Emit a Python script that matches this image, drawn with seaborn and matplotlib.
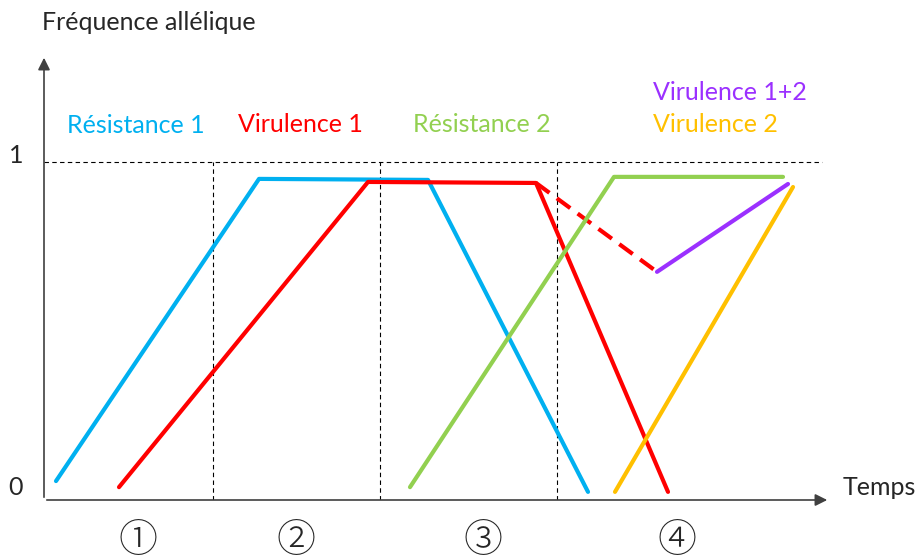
import numpy as np
import pandas as pd
import seaborn as sns
import matplotlib.pyplot as plt

sns.set_style("white")
plt.rcParams['font.family'] = ['Lato', 'DejaVu Sans']

res1_t = [0.12, 2.15, 3.84, 5.44]
res1_f = [0.056, 0.95, 0.947, 0.024]

vir1_t = [0.75, 3.24, 4.92, 6.24]
vir1_f = [0.038, 0.941, 0.938, 0.024]

vir1_pointille_t = [4.92, 6.13]
vir1_pointille_f = [0.938, 0.675]

vir12_t = [6.13, 7.44]
vir12_f = [0.675, 0.935]

res2_t = [3.66, 5.70, 7.39]
res2_f = [0.038, 0.956, 0.956]

vir2_t = [5.71, 7.49]
vir2_f = [0.024, 0.926]

separations = [1.69, 3.36, 5.13]
phases = ["①", "②", "③", "④"]
phases_t = [0.94, 2.52, 4.39, 6.33]

bleu = "#00B0F0"
rouge = "#FF0000"
vert = "#92D050"
violet = "#9B30FF"
orange = "#FFC000"

fig = plt.figure(figsize=(9.16, 5.59), dpi=100)
ax = fig.add_axes([44/916, 59/559, (830-44)/916, (500-55)/559])
ax.set_xlim(0, 7.86)
ax.set_ylim(0, (500-55)/338)

# lignes pointillées de repère
ax.plot([0, 7.78], [1, 1], color="black", lw=0.8, linestyle=(0, (4, 3)))
for s in separations:
    ax.plot([s, s], [0, 1], color="black", lw=0.8, linestyle=(0, (4, 3)))

sns.lineplot(x=res1_t, y=res1_f, sort=False, color=bleu, lw=3, ax=ax)
sns.lineplot(x=vir1_t, y=vir1_f, sort=False, color=rouge, lw=3, ax=ax)
sns.lineplot(x=vir1_pointille_t, y=vir1_pointille_f, sort=False, color=rouge, lw=3,
             linestyle=(0, (4, 2.2)), ax=ax)
sns.lineplot(x=vir12_t, y=vir12_f, sort=False, color=violet, lw=3, ax=ax)
sns.lineplot(x=res2_t, y=res2_f, sort=False, color=vert, lw=3, ax=ax)
sns.lineplot(x=vir2_t, y=vir2_f, sort=False, color=orange, lw=3, ax=ax)

# axes avec flèches
for sp in ax.spines.values():
    sp.set_visible(False)
ax.set_xticks([])
ax.set_yticks([])
ax.annotate("", xy=(1, 0), xytext=(0, 0), xycoords="axes fraction",
            arrowprops=dict(arrowstyle="-|>", color="#404040", lw=1.2, mutation_scale=18))
ax.annotate("", xy=(0, 1), xytext=(0, 0), xycoords="axes fraction",
            arrowprops=dict(arrowstyle="-|>", color="#404040", lw=1.2, mutation_scale=18))

fs = 18
ax.text(-0.02, (500-22)/338, "Fréquence allélique", fontsize=fs, va="center", ha="left", clip_on=False)
ax.text(-0.28, 1.02, "1", fontsize=fs, va="center", ha="center", clip_on=False)
ax.text(-0.28, 0.038, "0", fontsize=fs, va="center", ha="center", clip_on=False)
ax.text(7.99, 0.038, "Temps", fontsize=fs, va="center", ha="left", clip_on=False)

ax.text(0.23, (500-126)/338, "Résistance 1", color=bleu, fontsize=fs, va="center")
ax.text(1.94, (500-125)/338, "Virulence 1", color=rouge, fontsize=fs, va="center")
ax.text(3.69, (500-125)/338, "Résistance 2", color=vert, fontsize=fs, va="center")
ax.text(6.09, (500-93)/338, "Virulence 1+2", color=violet, fontsize=fs, va="center")
ax.text(6.09, (500-125)/338, "Virulence 2", color=orange, fontsize=fs, va="center")

# numéros de phase
for t, p in zip(phases_t, phases):
    ax.text(t, (500-541)/338, p, fontsize=28, ha="center", va="center", clip_on=False,
            family=["Noto Sans CJK JP", "DejaVu Sans"], fontweight="light")

fig.savefig("out.png", dpi=100)
